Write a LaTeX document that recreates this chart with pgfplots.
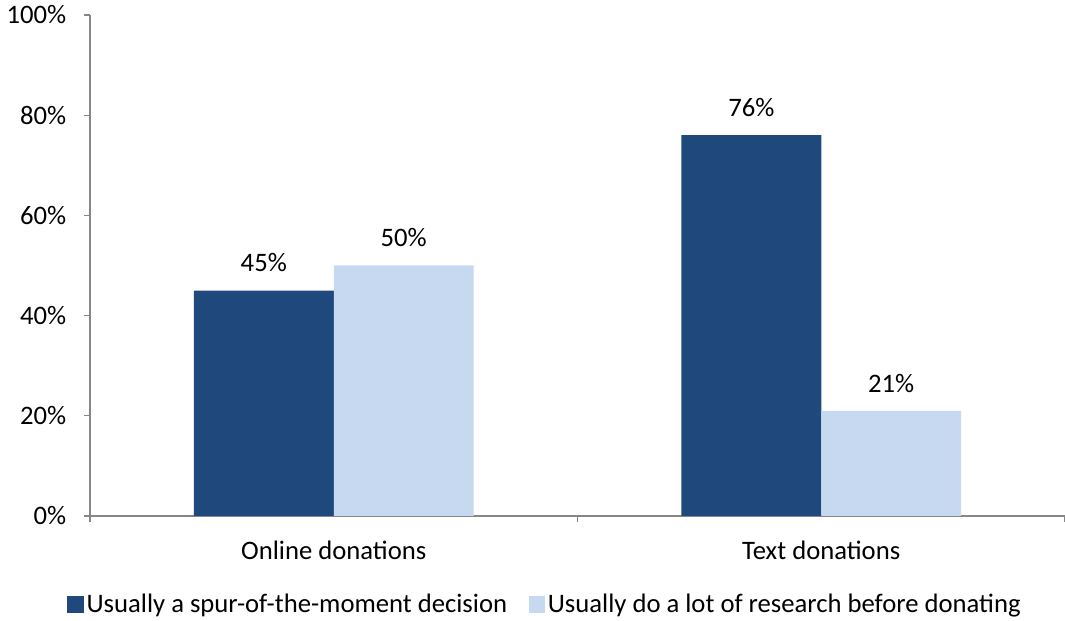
\documentclass[border=0pt]{standalone}
\usepackage{fontspec}
\setmainfont{Carlito}
\usepackage{pgfplots}
\pgfplotsset{compat=1.18}

\definecolor{darkblue}{RGB}{31,73,125}
\definecolor{lightblue}{RGB}{198,217,241}
\definecolor{axisgray}{RGB}{134,134,134}

\begin{document}
\fontsize{20pt}{24pt}\selectfont
\begin{tikzpicture}
\begin{axis}[
    name=ax,
    at={(0,0)}, anchor=south west,
    scale only axis,
    width=731.25pt, height=375.75pt,
    ybar=0pt,
    bar width=0.287,
    xmin=-0.5, xmax=1.5,
    ymin=0, ymax=100,
    axis x line=bottom, axis y line=left,
    axis line style={-, draw=axisgray, line width=0.9pt},
    xtick={0,1},
    xticklabels={Online donations, Text donations},
    minor xtick={-0.5,0.5,1.5},
    major x tick style={draw=none},
    minor x tick style={draw=axisgray, line width=0.9pt},
    ytick={0,20,40,60,80,100},
    y tick style={draw=axisgray, line width=0.9pt},
    tick align=outside,
    major tick length=4.5pt,
    minor tick length=4.5pt,
    yticklabel={\pgfmathprintnumber{\tick}\%},
    /pgf/number format/assume math mode=true,
    x tick label style={yshift=-7pt},
    y tick label style={xshift=-6.5pt},
    nodes near coords={\pgfmathprintnumber{\pgfplotspointmeta}\%},
    every node near coord/.append style={anchor=south, yshift=7pt, text=black},
    legend style={
        at={(0.467,-0.178)}, anchor=center,
        draw=none, fill=none,
        legend columns=2,
        /tikz/every even column/.append style={column sep=14pt},
        font=\fontsize{20pt}{24pt}\selectfont,
    },
    legend image code/.code={\fill[#1] (-3pt,-5.5pt) rectangle (9.5pt,7pt);},
]
\addplot[fill=darkblue, draw=none] coordinates {(0,45) (1,76)};
\addplot[fill=lightblue, draw=none] coordinates {(0,50) (1,21)};
\legend{Usually a spur-of-the-moment decision, Usually do a lot of research before donating}
\end{axis}
\pgfresetboundingbox
\path[use as bounding box] (-67.5pt,-78.75pt) rectangle (731.25pt,387pt);
\end{tikzpicture}
\end{document}
